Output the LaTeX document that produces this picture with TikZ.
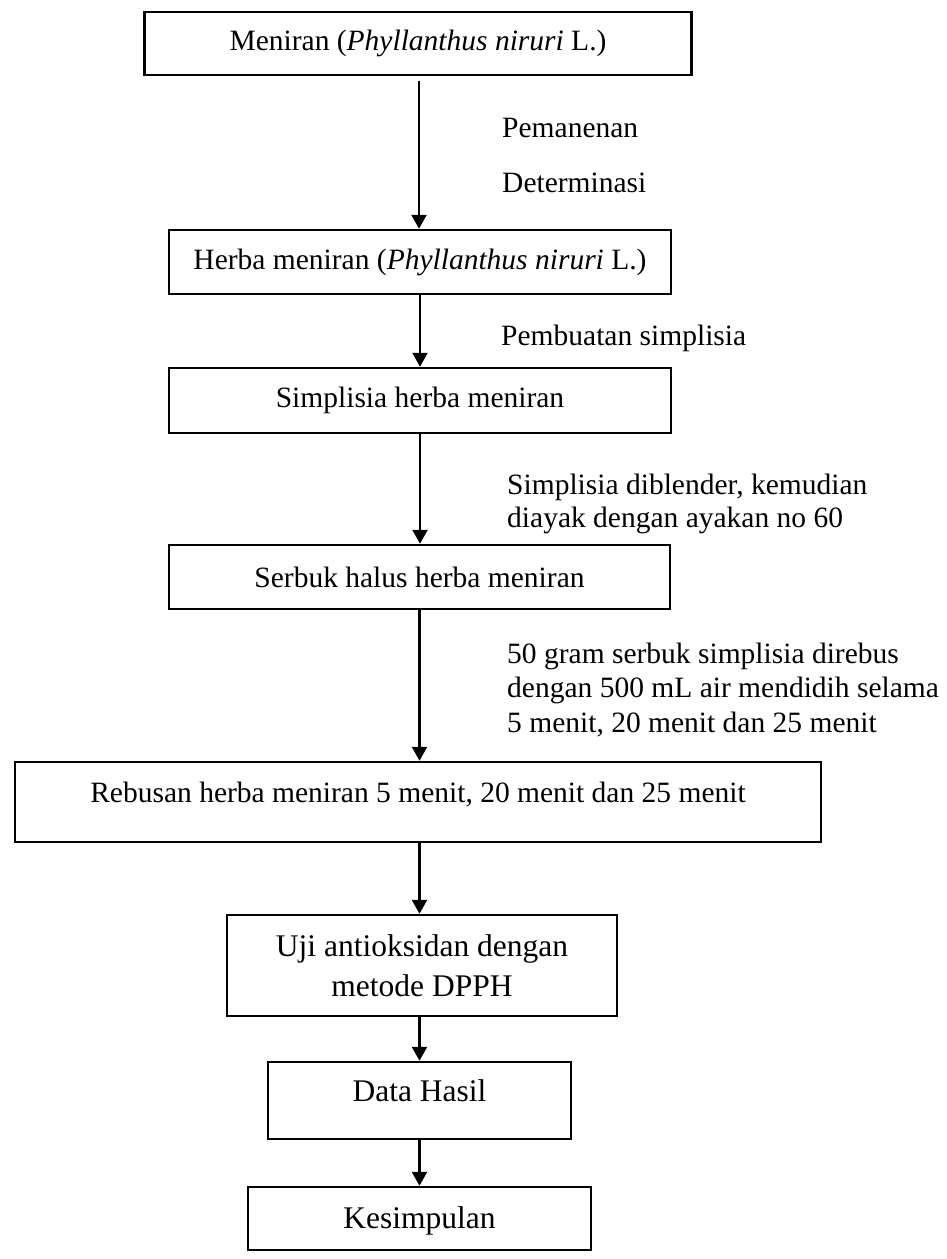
\documentclass[tikz,border=0pt]{standalone}
\usepackage{fontspec}
\setmainfont{Liberation Serif}
\usetikzlibrary{arrows.meta}
\begin{document}
\begin{tikzpicture}[x=1pt,y=-1pt,
  box/.style={draw, line width=2.5pt, inner sep=0pt, align=center, font=\fontsize{29.5}{34}\selectfont},
  big/.style={font=\fontsize{31.5}{40}\selectfont},
  lbl/.style={inner sep=0pt, anchor=base west, align=left},
  arr/.style={line width=2.5pt, -{Triangle[width=15pt,length=14pt]}}]
\useasboundingbox (0,0) rectangle (947,1259);
\node[box, minimum width=547pt, minimum height=63pt] (b1) at (418,43.5) {Meniran (\textit{Phyllanthus niruri} L.)};
\node[box, minimum width=502pt, minimum height=64pt] (b2) at (420,262) {Herba meniran (\textit{Phyllanthus niruri} L.)};
\node[box, minimum width=502pt, minimum height=65pt] (b3) at (420,400.5) {Simplisia herba meniran};
\node[box, minimum width=501pt, minimum height=64pt] (b4) at (419.5,577) {Serbuk halus herba meniran};
\node[box, minimum width=806pt, text height=40pt, text depth=40pt] (b5) at (418,802) {Rebusan herba meniran 5 menit, 20 menit dan 25 menit};
\node[box, big, minimum width=390pt, minimum height=101pt] (b6) at (422,965.5) {Uji antioksidan dengan\\metode DPPH};
\node[box, big, minimum width=303pt, text height=39pt, text depth=38pt] (b7) at (419.5,1100.5) {Data Hasil};
\node[box, big, minimum width=343pt, text height=41pt, text depth=22pt, anchor=base] (b8) at (419.5,1228) {Kesimpulan};
\begin{scope}[font=\fontsize{29.5}{33}\selectfont]
\node[lbl] (l1) at (502,137) {Pemanenan};
\node[lbl] (l2) at (502,192) {Determinasi};
\node[lbl] (l3) at (501,345) {Pembuatan simplisia};
\node[lbl] (l4) at (507,527) {Simplisia diblender, kemudian\\diayak dengan ayakan no 60};
\end{scope}
\node[lbl, font=\fontsize{29.5}{34.5}\selectfont] (l5) at (507,732) {50 gram serbuk simplisia direbus\\dengan 500 mL air mendidih selama\\5 menit, 20 menit dan 25 menit};
\coordinate (a1) at (419,81);
\draw[arr] (a1) -- (a1 |- b2.north);
\draw[arr] (b2.south) -- (b2.south |- b3.north);
\draw[arr] (b3.south) -- (b3.south |- b4.north);
\draw[arr] (b4.south) -- (b4.south |- b5.north);
\draw[arr] (b4.south |- b5.south) -- (b4.south |- b6.north);
\draw[arr] (b7.north |- b6.south) -- (b7.north);
\draw[arr] (b7.south) -- (b7.south |- b8.north);
\end{tikzpicture}
\end{document}
